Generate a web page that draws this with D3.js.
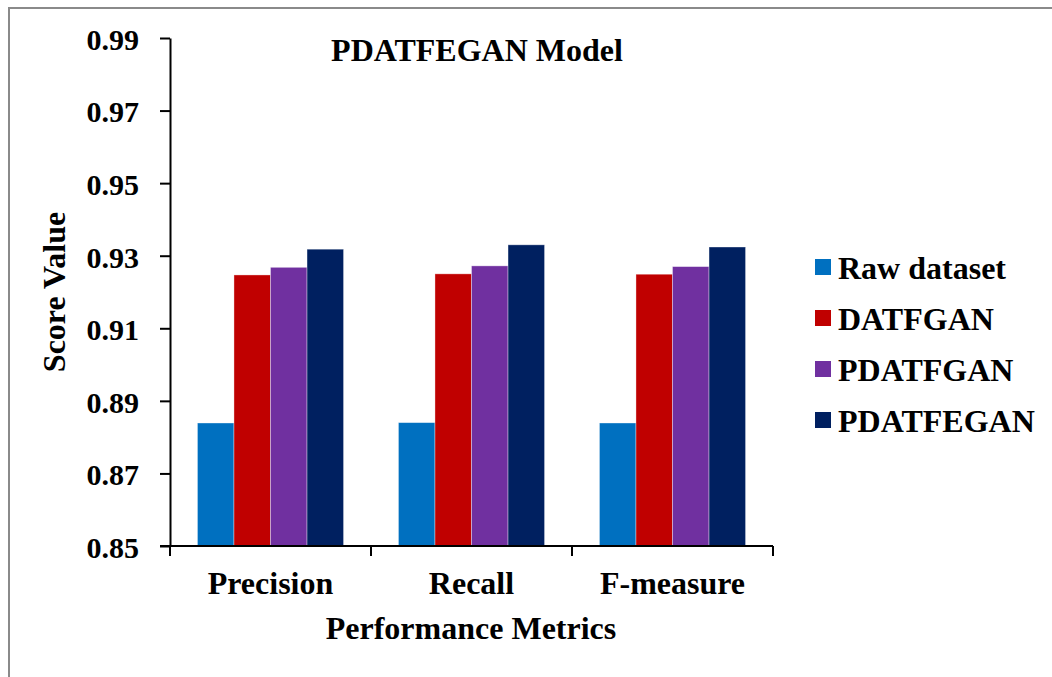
<!DOCTYPE html>
<html>
<head>
<meta charset="utf-8">
<script src="https://cdn.jsdelivr.net/npm/d3@7"></script>
<style>
  html, body { margin: 0; padding: 0; background: #fff; }
  svg { display: block; }
  text { font-family: "Liberation Serif", "Times New Roman", serif; font-weight: bold; fill: #000; }
</style>
</head>
<body>
<script>
// Score values per performance metric for each model variant
const categories = ["Precision", "Recall", "F-measure"];
const seriesNames = ["Raw dataset", "DATFGAN", "PDATFGAN", "PDATFEGAN"];
const rawDataset = [0.8839, 0.8840, 0.8839];
const datfgan    = [0.9247, 0.9250, 0.9249];
const pdatfgan   = [0.9268, 0.9272, 0.9270];
const pdatfegan  = [0.9318, 0.9330, 0.9324];
const yTicks = [0.85, 0.87, 0.89, 0.91, 0.93, 0.95, 0.97, 0.99];
const colors = ["#0070C0", "#C00000", "#7030A0", "#002060"];

const seriesValues = [rawDataset, datfgan, pdatfgan, pdatfegan];

const W = 1052, H = 677;
const svg = d3.select("body").append("svg").attr("width", W).attr("height", H);

// outer frame (open on right and bottom)
svg.append("path")
  .attr("d", `M9,${H} L9,8 L${W},8`)
  .attr("fill", "none").attr("stroke", "#8a8a8a").attr("stroke-width", 2);

const plot = { left: 170, right: 773, top: 38, bottom: 546 };

const y = d3.scaleLinear().domain([0.85, 0.99]).range([plot.bottom, plot.top]);
const x0 = d3.scaleBand().domain(categories).range([plot.left, plot.right]).padding(0);
const groupFrac = 0.727;
const x1 = d3.scaleBand().domain(seriesNames)
  .range([x0.bandwidth() * (1 - groupFrac) / 2, x0.bandwidth() * (1 + groupFrac) / 2])
  .padding(0);

// bars
const groups = svg.append("g").selectAll("g")
  .data(categories).join("g")
  .attr("transform", d => `translate(${x0(d)},0)`);

groups.selectAll("rect")
  .data((c, ci) => seriesNames.map((s, si) => ({ s, si, v: seriesValues[si][ci] })))
  .join("rect")
  .attr("x", d => x1(d.s))
  .attr("width", x1.bandwidth())
  .attr("y", d => y(d.v))
  .attr("height", d => y(0.85) - y(d.v))
  .attr("fill", d => colors[d.si])
  .attr("stroke", "rgba(255,255,255,0.45)")
  .attr("stroke-width", 0.8);

// y axis
const yAxis = d3.axisLeft(y).tickValues(yTicks).tickFormat(d3.format(".2f"))
  .tickSizeInner(10).tickSizeOuter(0).tickPadding(21);
const yg = svg.append("g").attr("transform", `translate(${plot.left},0)`).call(yAxis);
yg.select(".domain").attr("stroke", "#000").attr("stroke-width", 2);
yg.selectAll(".tick line").attr("stroke", "#000").attr("stroke-width", 2);
yg.selectAll(".tick text")
  .attr("font-size", 30).attr("font-family", "Liberation Serif, serif")
  .attr("font-weight", "bold").attr("dy", "0.38em");

// x axis with ticks between categories
const xg = svg.append("g").attr("transform", `translate(0,${plot.bottom})`);
xg.append("line").attr("x1", plot.left - 10).attr("x2", plot.right)
  .attr("stroke", "#000").attr("stroke-width", 2);
const boundaries = categories.map(c => x0(c)).concat([x0(categories[categories.length - 1]) + x0.bandwidth()]);
xg.selectAll("line.tk").data(boundaries).join("line").attr("class", "tk")
  .attr("x1", d => d).attr("x2", d => d).attr("y1", 0).attr("y2", 10)
  .attr("stroke", "#000").attr("stroke-width", 2);
xg.selectAll("text").data(categories).join("text")
  .attr("x", d => x0(d) + x0.bandwidth() / 2)
  .attr("y", 48)
  .attr("text-anchor", "middle")
  .attr("font-size", 32)
  .text(d => d);

// axis titles
svg.append("text").attr("x", 471).attr("y", 639).attr("text-anchor", "middle")
  .attr("font-size", 32).text("Performance Metrics");
svg.append("text").attr("transform", "translate(65,292) rotate(-90)")
  .attr("text-anchor", "middle").attr("font-size", 32).text("Score Value");

// chart title
svg.append("text").attr("x", 477).attr("y", 61).attr("text-anchor", "middle")
  .attr("font-size", 32).text("PDATFEGAN Model");

// legend
const legend = svg.append("g").selectAll("g").data(seriesNames).join("g")
  .attr("transform", (d, i) => `translate(815,${259 + i * 51})`);
legend.append("rect").attr("width", 16).attr("height", 16)
  .attr("fill", (d, i) => colors[i]);
legend.append("text").attr("x", 23).attr("y", 8).attr("dy", "0.36em")
  .attr("font-size", 32).text(d => d);
</script>
</body>
</html>
